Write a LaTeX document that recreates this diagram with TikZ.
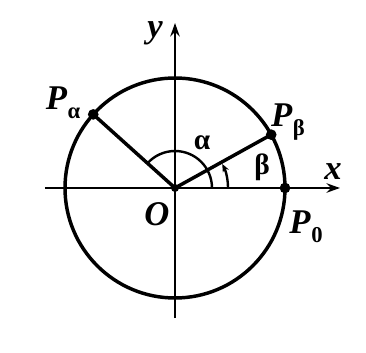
\documentclass[tikz,border=0pt]{standalone}
\usepackage{fontspec}
\setmainfont{Liberation Serif}
\usetikzlibrary{arrows.meta}
\begin{document}
\begin{tikzpicture}[x=0.75pt,y=0.75pt,
  thickline/.style={line width=2.6pt},
  axisline/.style={line width=2pt,-{Stealth[length=10pt,width=7pt]}},
  dotpt/.style={circle,fill=black,inner sep=0pt,minimum size=8pt},
  lab/.style={font=\fontsize{26}{28}\selectfont\bfseries\itshape,inner sep=0pt},
  glab/.style={font=\fontsize{22}{24}\selectfont\bfseries,inner sep=0pt}]
\useasboundingbox (-175,-164) rectangle (191,188);
\coordinate (O) at (0,0);
\coordinate (xl) at (-130,0);
\coordinate (xr) at (165,0);
\coordinate (yb) at (0,-130);
\coordinate (yt) at (0,165);
\draw[axisline] (xl) -- (xr);
\draw[axisline] (yb) -- (yt);
\draw[thickline] (O) circle (110);
\node[dotpt] (Pa) at (138:110) {};
\node[dotpt] (Pb) at (29:110) {};
\node[dotpt] (P0) at (0:110) {};
\node[dotpt,minimum size=6pt] (Od) at (O) {};
\draw[thickline] (O) -- (Pa.center);
\draw[thickline] (O) -- (Pb.center);
\draw[line width=1.8pt] (37,0) arc (0:138:37);
\draw[line width=1.8pt,-{Stealth[length=6pt,width=5pt]}] (53,0) arc (0:27:53);
\node[lab] (ylab) at (-20,155) {y};
\node[lab] (xlab) at (158,16) {x};
\node[lab] (Olab) at (-18,-26) {O};
\node[lab] (Palab) at (-112,85) {P\kern0.5pt\raisebox{-7pt}{\fontsize{17}{18}\selectfont\upshape α}};
\node[lab] (Pblab) at (113,66) {P\kern0.5pt\raisebox{-7pt}{\fontsize{17}{18}\selectfont\upshape β}};
\node[lab] (P0lab) at (131,-39) {P\kern0.5pt\raisebox{-7pt}{\fontsize{17}{18}\selectfont\upshape 0}};
\node[glab] (alab) at (27,45) {α};
\node[glab] (blab) at (87,21) {β};
\end{tikzpicture}
\end{document}
